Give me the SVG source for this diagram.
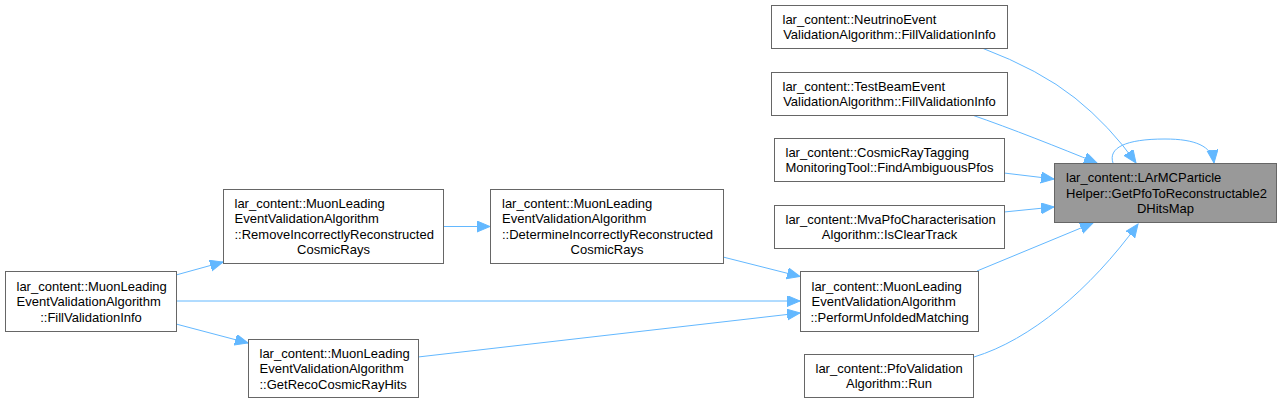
<svg xmlns="http://www.w3.org/2000/svg" width="1281" height="403" viewBox="0 0 1281 403">
<style>
.box{fill:#ffffff;stroke:#666666;stroke-width:1}
.main{fill:#999999;stroke:#666666;stroke-width:1}
text{font-family:"Liberation Sans",Arial,sans-serif;font-size:13px;fill:#000000}
.c{text-anchor:middle}
.e{fill:none;stroke:#63b8ff;stroke-width:1;marker-end:url(#ah)}
</style>
<defs>
<marker id="ah" markerUnits="userSpaceOnUse" markerWidth="15" markerHeight="12" refX="13" refY="5.5" orient="auto">
<path d="M0,0 L13,5.5 L0,11 z" fill="#63b8ff" stroke="#63b8ff" stroke-width="1"/>
</marker>
</defs>
<rect width="1281" height="403" fill="#ffffff"/>
<g id="connectors">
<path class="e" d="M982,48 Q1040,70 1075,98 T1136,163"/>
<path class="e" d="M972,115 C1010,128 1060,148 1097,163"/>
<path class="e" d="M1004,173 L1054,179"/>
<path class="e" d="M1113,163 C1108,148 1125,139 1165,139 C1195,139 1212,146 1214,163"/>
<path class="e" d="M1004,212 L1054,207"/>
<path class="e" d="M977,271 L1093,223"/>
<path class="e" d="M974,357 C1030,340 1090,290 1138,224"/>
<path class="e" d="M176,275 L223,262"/>
<path class="e" d="M176,301 L800,301"/>
<path class="e" d="M176,324 L248,343"/>
<path class="e" d="M443,226.5 L490,226.5"/>
<path class="e" d="M723,257 L800,276.5"/>
<path class="e" d="M418,357 L800,313"/>
</g>
<g id="node_target">
<rect class="main" x="1054.5" y="163.5" width="222" height="59"/>
<text x="1066" y="182">lar_content::LArMCParticle</text>
<text x="1066" y="197.5">Helper::GetPfoToReconstructable2</text>
<text class="c" x="1165.5" y="213">DHitsMap</text>
</g>
<g id="node_neutrino">
<rect class="box" x="771.5" y="5.5" width="236" height="43"/>
<text x="782.5" y="23.75">lar_content::NeutrinoEvent</text>
<text class="c" x="889.5" y="39.25">ValidationAlgorithm::FillValidationInfo</text>
</g>
<g id="node_testbeam">
<rect class="box" x="771.5" y="72.5" width="236" height="43"/>
<text x="782.5" y="90.75">lar_content::TestBeamEvent</text>
<text class="c" x="889.5" y="106.25">ValidationAlgorithm::FillValidationInfo</text>
</g>
<g id="node_cosmictag">
<rect class="box" x="774.5" y="138.5" width="230" height="43"/>
<text x="785.5" y="156.75">lar_content::CosmicRayTagging</text>
<text class="c" x="889.5" y="172.25">MonitoringTool::FindAmbiguousPfos</text>
</g>
<g id="node_mva">
<rect class="box" x="774.5" y="205.5" width="230" height="43"/>
<text x="785.5" y="223.75">lar_content::MvaPfoCharacterisation</text>
<text class="c" x="889.5" y="239.25">Algorithm::IsClearTrack</text>
</g>
<g id="node_perform">
<rect class="box" x="800.5" y="271.5" width="178" height="60"/>
<text x="811.5" y="290.5">lar_content::MuonLeading</text>
<text x="811.5" y="306">EventValidationAlgorithm</text>
<text class="c" x="889.5" y="321.5">::PerformUnfoldedMatching</text>
</g>
<g id="node_pforun">
<rect class="box" x="804.5" y="354.5" width="169" height="43"/>
<text x="815.5" y="372.75">lar_content::PfoValidation</text>
<text class="c" x="889" y="388.25">Algorithm::Run</text>
</g>
<g id="node_fill">
<rect class="box" x="5.5" y="271.5" width="171" height="60"/>
<text x="16.5" y="290.5">lar_content::MuonLeading</text>
<text x="16.5" y="306">EventValidationAlgorithm</text>
<text class="c" x="91" y="321.5">::FillValidationInfo</text>
</g>
<g id="node_remove">
<rect class="box" x="223.5" y="189.5" width="220" height="74"/>
<text x="234.5" y="207.75">lar_content::MuonLeading</text>
<text x="234.5" y="223.25">EventValidationAlgorithm</text>
<text x="234.5" y="238.75">::RemoveIncorrectlyReconstructed</text>
<text class="c" x="333.5" y="254.25">CosmicRays</text>
</g>
<g id="node_determine">
<rect class="box" x="490.5" y="189.5" width="233" height="74"/>
<text x="502" y="207.75">lar_content::MuonLeading</text>
<text x="502" y="223.25">EventValidationAlgorithm</text>
<text x="502" y="238.75">::DetermineIncorrectlyReconstructed</text>
<text class="c" x="607" y="254.25">CosmicRays</text>
</g>
<g id="node_getreco">
<rect class="box" x="248.5" y="339.5" width="170" height="58"/>
<text x="259.5" y="357.5">lar_content::MuonLeading</text>
<text x="259.5" y="373">EventValidationAlgorithm</text>
<text x="259.5" y="388.5">::GetRecoCosmicRayHits</text>
</g>
</svg>
